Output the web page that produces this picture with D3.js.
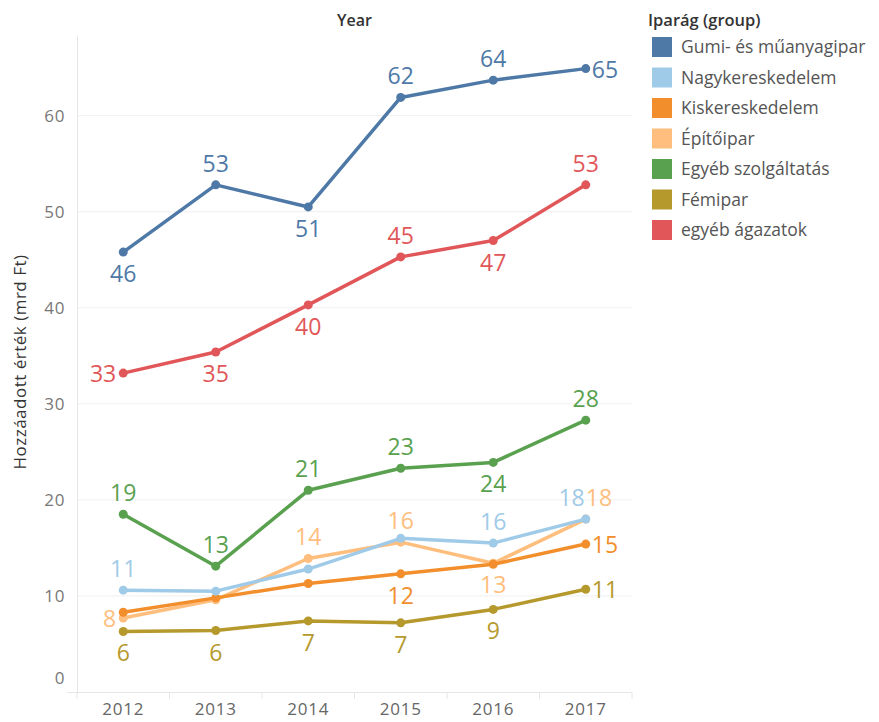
<!DOCTYPE html>
<html>
<head>
<meta charset="utf-8">
<script src="https://cdn.jsdelivr.net/npm/d3@7"></script>
<style>
  body { margin: 0; background: #fff; }
  text { font-family: "Open Sans", "Noto Sans", sans-serif; }
</style>
</head>
<body>
<div id="chart"></div>
<script>
// data
const years = [2012, 2013, 2014, 2015, 2016, 2017]
const groups = ['Gumi- és műanyagipar', 'Nagykereskedelem', 'Kiskereskedelem', 'Építőipar',
    'Egyéb szolgáltatás', 'Fémipar', 'egyéb ágazatok']
const colors = ['#4e79a7', '#a0cbe8', '#f28e2b', '#ffbe7d', '#59a14f', '#b6992d', '#e15759']

const gumi = [45.8, 52.8, 50.5, 61.9, 63.7, 64.9]
const nagyker = [10.6, 10.5, 12.8, 16.0, 15.5, 18.0]
const kisker = [8.3, 9.8, 11.3, 12.3, 13.3, 15.4]
const epito = [7.7, 9.6, 13.9, 15.6, 13.4, 18.0]
const egyebSzolg = [18.5, 13.1, 21.0, 23.3, 23.9, 28.3]
const femipar = [6.3, 6.4, 7.4, 7.2, 8.6, 10.7]
const egyebAg = [33.2, 35.4, 40.3, 45.3, 47.0, 52.8]
const series = [gumi, nagyker, kisker, epito, egyebSzolg, femipar, egyebAg]

const yTicks = [0, 10, 20, 30, 40, 50, 60]

// where each mark label sits: a = above, b = below, r = right, l = left,
// al / ar = above, ending / starting at the point, '' = no label
const labelPos = [
    ['b', 'a', 'b', 'a', 'a', 'r'],
    ['a', '', '', '', 'a', 'al'],
    ['', '', '', 'b', '', 'r'],
    ['l', '', 'a', 'a', 'b', 'ar'],
    ['a', 'a', 'a', 'a', 'b', 'a'],
    ['b', 'b', 'b', 'b', 'b', 'r'],
    ['l', 'b', 'b', 'a', 'b', 'a']
]

const w = 879
const h = 722
const pLeft = 77, pRight = 632, pTop = 35, pBottom = 692

const svg = d3.select('#chart')
    .append('svg')
    .attr('width', w)
    .attr('height', h)

const xScale = d3.scaleBand()
    .domain(years)
    .range([pLeft, pRight])

const yScale = d3.scaleLinear()
    .domain([0, 68.4])
    .range([pBottom, pTop])

const xc = d => xScale(d) + xScale.bandwidth() / 2

// grid lines
svg.append('g')
    .selectAll('line')
    .data(yTicks.filter(d => d > 0))
    .enter()
    .append('line')
    .attr('x1', pLeft)
    .attr('x2', pRight)
    .attr('y1', d => yScale(d))
    .attr('y2', d => yScale(d))
    .attr('stroke', '#efefef')
    .attr('stroke-width', 1)

// y axis
const yAxis = d3.axisLeft(yScale).tickValues(yTicks).tickSize(0).tickPadding(12)
const gy = svg.append('g')
    .attr('transform', 'translate(' + pLeft + ',0)')
    .call(yAxis)
gy.select('.domain').attr('stroke', '#e6e6e6')
gy.selectAll('text')
    .attr('fill', '#777')
    .style('font-size', '17px')
    .style('letter-spacing', '0.6px')
    .attr('dy', d => d === 0 ? '-0.5em' : '0.35em')

// x axis
const xAxis = d3.axisBottom(xScale).tickSize(0).tickPadding(11)
const gx = svg.append('g')
    .attr('transform', 'translate(0,' + pBottom + ')')
    .call(xAxis)
gx.select('.domain').remove()
gx.selectAll('text')
    .attr('fill', '#666')
    .style('font-size', '17px')
    .style('letter-spacing', '0.8px')

svg.append('line')
    .attr('x1', pLeft - 10).attr('x2', pRight)
    .attr('y1', pBottom + 0.5).attr('y2', pBottom + 0.5)
    .attr('stroke', '#e6e6e6')

svg.append('g')
    .selectAll('line')
    .data(years)
    .enter()
    .append('line')
    .attr('x1', d => xScale(d))
    .attr('x2', d => xScale(d))
    .attr('y1', pBottom)
    .attr('y2', pBottom + 7)
    .attr('stroke', '#e6e6e6')
svg.append('line')
    .attr('x1', pRight).attr('x2', pRight)
    .attr('y1', pBottom).attr('y2', pBottom + 7)
    .attr('stroke', '#e6e6e6')

// header and axis title
svg.append('text')
    .attr('x', (pLeft + pRight) / 2)
    .attr('y', 26)
    .attr('text-anchor', 'middle')
    .attr('fill', '#333')
    .style('font-size', '16px')
    .style('font-weight', 600)
    .text('Year')

svg.append('text')
    .attr('transform', 'translate(26,' + 362 + ') rotate(-90)')
    .attr('text-anchor', 'middle')
    .attr('fill', '#333')
    .style('font-size', '17px')
    .style('letter-spacing', '0.5px')
    .style('font-weight', 500)
    .text('Hozzáadott érték (mrd Ft)')

// lines, last group first so the legend's first group sits on top
const line = d3.line()
    .x((d, i) => xc(years[i]))
    .y(d => yScale(d))

const order = d3.range(series.length).reverse()

order.forEach(s => {
    const g = svg.append('g')
    g.append('path')
        .datum(series[s])
        .attr('d', line)
        .attr('fill', 'none')
        .attr('stroke', colors[s])
        .attr('stroke-width', 3.5)
        .attr('stroke-linejoin', 'round')
    g.selectAll('circle')
        .data(series[s])
        .enter()
        .append('circle')
        .attr('cx', (d, i) => xc(years[i]))
        .attr('cy', d => yScale(d))
        .attr('r', 4.5)
        .attr('fill', colors[s])
})

// labels
order.forEach(s => {
    const pts = series[s]
        .map((v, i) => ({ v: v, i: i, p: labelPos[s][i] }))
        .filter(d => d.p !== '')
    svg.append('g')
        .selectAll('text')
        .data(pts)
        .enter()
        .append('text')
        .attr('x', d => {
            const x = xc(years[d.i])
            if (d.p === 'r') return x + 6
            if (d.p === 'l') return x - 7
            if (d.p === 'al') return x - 1
            if (d.p === 'ar') return x
            return x
        })
        .attr('y', d => {
            const y = yScale(d.v)
            if (d.p === 'b') return y + 30
            if (d.p === 'r' || d.p === 'l') return y + 9
            return y - 13
        })
        .attr('text-anchor', d => {
            if (d.p === 'r' || d.p === 'ar') return 'start'
            if (d.p === 'l' || d.p === 'al') return 'end'
            return 'middle'
        })
        .attr('fill', colors[s])
        .style('font-size', '23px')
        .text(d => Math.round(d.v))
})

// legend
const legend = svg.append('g')
    .attr('transform', 'translate(648,0)')

legend.append('text')
    .attr('x', 0)
    .attr('y', 26)
    .attr('fill', '#333')
    .style('font-size', '16.5px')
    .style('font-weight', 600)
    .text('Iparág (group)')

const items = legend.selectAll('.item')
    .data(groups)
    .enter()
    .append('g')
    .attr('class', 'item')
    .attr('transform', (d, i) => 'translate(0,' + (37 + i * 30.5) + ')')

items.append('rect')
    .attr('x', 4)
    .attr('width', 20)
    .attr('height', 20)
    .attr('fill', (d, i) => colors[i])

items.append('text')
    .attr('x', 33)
    .attr('y', 16)
    .attr('fill', '#555')
    .style('font-size', '17.5px')
    .text(d => d)
</script>
</body>
</html>
